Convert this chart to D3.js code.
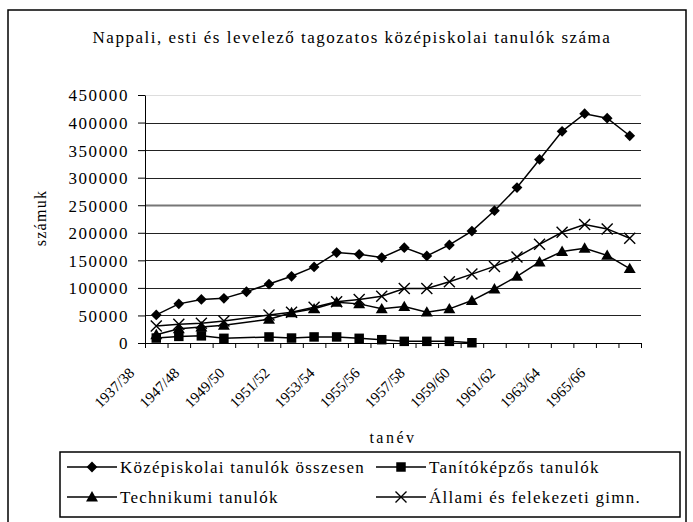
<!DOCTYPE html>
<html><head><meta charset="utf-8">
<script src="https://cdn.jsdelivr.net/npm/d3@7"></script>
<style>
body{margin:0;background:#fff;}
svg text{font-family:'Liberation Serif','Times New Roman','DejaVu Serif',serif !important;fill:#000;}
</style></head>
<body><svg id="c" width="693" height="522" font-family="Liberation Serif, serif"></svg>
<script>
const categories = ["1937/38","1946/47","1947/48","1948/49","1949/50","1950/51","1951/52","1952/53","1953/54","1954/55","1955/56","1956/57","1957/58","1958/59","1959/60","1960/61","1961/62","1962/63","1963/64","1964/65","1965/66","1966/67"];
const osszesen = [51000,71000,79000,81000,93000,107000,121000,138000,164000,161000,155000,173000,158000,178000,203000,240000,282000,333000,384000,416000,408000,376000];
const tanitokepzos = [9000,12000,13000,8500,null,11000,9000,11000,11000,8500,6000,3000,3000,3000,500,null,null,null,null,null,null,null];
const technikumi = [15000,26000,29000,32000,null,43000,55000,62000,74000,71000,62000,66000,56000,62000,77000,98000,121000,147000,166000,172000,159000,135000];
const gimn = [31000,34000,36000,40000,null,51000,56000,65000,75000,79000,85000,99000,99000,111000,125000,139000,156000,179000,201000,215000,207000,190000];
const yTicks = [0,50000,100000,150000,200000,250000,300000,350000,400000,450000];
const seriesNames = ["Középiskolai tanulók összesen","Tanítóképzős tanulók","Technikumi tanulók","Állami és felekezeti gimn."];
const title = "Nappali, esti és levelező tagozatos középiskolai tanulók száma";
const yTitle = "számuk";
const xTitle = "tanév";

const FONT = "'Liberation Serif','Times New Roman','DejaVu Serif',serif";
const svg = d3.select("#c");
const L = 145, R = 641, T = 95, B = 343;
const x = d3.scaleBand().domain(categories).range([L, R]).padding(0);
const xi = d3.scaleLinear().domain([0, categories.length]).range([L, R]);
const y = d3.scaleLinear().domain([0, 450000]).range([B, T]);

function txt(sel, size, ls) {
  return sel.style("font-family", FONT).style("font-size", size + "px").style("letter-spacing", ls + "px").attr("fill", "#000");
}

// outer frame
svg.append("rect").attr("x", 8).attr("y", 10).attr("width", 678).attr("height", 540)
  .attr("fill", "none").attr("stroke", "#000").attr("stroke-width", 1.5);

// title
txt(svg.append("text").attr("x", 352).attr("y", 43).attr("text-anchor", "middle"), 17, 1.5).text(title);

// gridlines
svg.append("g").selectAll("line").data(yTicks.filter(d => d > 0)).join("line")
  .attr("x1", L).attr("x2", R).attr("y1", d => Math.round(y(d)) + 0.5).attr("y2", d => Math.round(y(d)) + 0.5)
  .attr("stroke", d => d === 450000 ? "#ddd" : (d === 250000 ? "#777" : "#222"))
  .attr("stroke-width", d => d === 250000 ? 2 : 1);

// y axis
const ya = svg.append("g").attr("transform", `translate(${L},0)`)
  .call(d3.axisLeft(y).tickValues(yTicks).tickSize(7).tickSizeOuter(0).tickFormat(d3.format("d")));
ya.attr("font-family", null);
ya.select(".domain").attr("stroke", "#000");
txt(ya.selectAll(".tick text").attr("x", -16).attr("dy", "0.35em"), 17, 1.6);

// x axis (tick marks at category boundaries)
const xa = svg.append("g").attr("transform", `translate(0,${B})`)
  .call(d3.axisBottom(xi).tickValues(d3.range(categories.length + 1)).tickSize(5).tickSizeOuter(0).tickFormat(""));
xa.select(".domain").attr("stroke", "#000");

// x labels, every other category
txt(svg.append("g").selectAll("text").data(categories.filter((d, i) => i % 2 === 0)).join("text")
  .attr("transform", d => `translate(${x(d) + x.bandwidth() / 2 - 21},${B + 31}) rotate(-45)`)
  .attr("text-anchor", "end"), 15, 0).text(d => d);

// axis titles
txt(svg.append("text").attr("transform", `translate(46,218) rotate(-90)`).attr("text-anchor", "middle"), 16, 1.3).text(yTitle);
txt(svg.append("text").attr("x", 393).attr("y", 443).attr("text-anchor", "middle"), 16, 2.5).text(xTitle);

// markers
function marker(g, type) {
  if (type === 0) g.append("path").attr("d", d3.symbol(d3.symbolSquare, 58)()).attr("transform", "rotate(45)").attr("fill", "#000");
  else if (type === 1) g.append("path").attr("d", d3.symbol(d3.symbolSquare, 90)()).attr("fill", "#000");
  else if (type === 2) g.append("path").attr("d", d3.symbol(d3.symbolTriangle, 62)()).attr("transform", "translate(0,1)").attr("fill", "#000");
  else g.append("path").attr("d", "M-5.5,-5.5L5.5,5.5M-5.5,5.5L5.5,-5.5").attr("stroke", "#000").attr("stroke-width", 1.4).attr("fill", "none");
}

const allSeries = [osszesen, tanitokepzos, technikumi, gimn];
const line = d3.line().x(d => x(d.c) + x.bandwidth() / 2).y(d => y(d.v));
allSeries.forEach((vals, si) => {
  const pts = categories.map((c, i) => ({ c, v: vals[i] })).filter(d => d.v !== null);
  svg.append("path").datum(pts).attr("d", line).attr("fill", "none").attr("stroke", "#000").attr("stroke-width", 1.5);
  const gs = svg.append("g").selectAll("g").data(pts).join("g")
    .attr("transform", d => `translate(${x(d.c) + x.bandwidth() / 2},${y(d.v)})`);
  gs.each(function () { marker(d3.select(this), si); });
});

// legend
svg.append("rect").attr("x", 60).attr("y", 452).attr("width", 620).attr("height", 65)
  .attr("fill", "none").attr("stroke", "#000").attr("stroke-width", 1.5);
const legPos = [[67, 467], [376, 467], [67, 497], [376, 497]];
seriesNames.forEach((name, si) => {
  const [lx, ly] = legPos[si];
  const g = svg.append("g").attr("transform", `translate(${lx},${ly})`);
  g.append("line").attr("x1", 0).attr("x2", 50).attr("y1", 0).attr("y2", 0).attr("stroke", "#000").attr("stroke-width", 1.5);
  const m = g.append("g").attr("transform", "translate(25,0)");
  marker(m, si);
  txt(g.append("text").attr("x", 53).attr("y", 5.5), 17, 1.25).text(name);
});
</script></body></html>
